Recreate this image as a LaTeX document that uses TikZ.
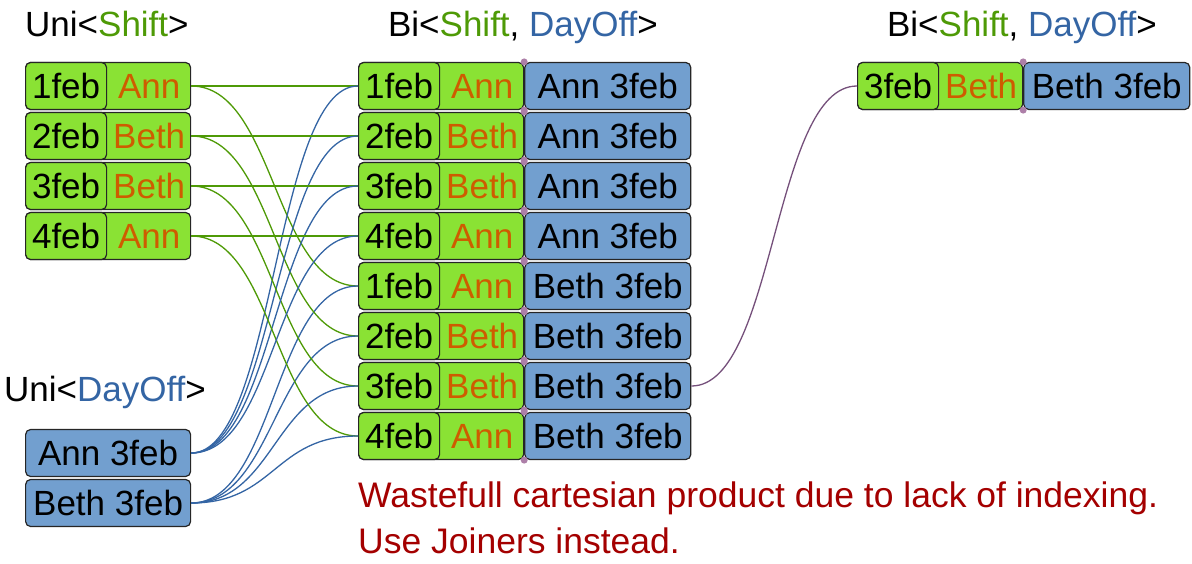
\documentclass[tikz,border=0pt]{standalone}
\usepackage{fontspec}
\setmainfont{Liberation Sans}
\usetikzlibrary{positioning,calc}
\definecolor{joinGreen}{HTML}{8AE234}
\definecolor{joinGreenDark}{HTML}{4E9A06}
\definecolor{joinBlue}{HTML}{729FCF}
\definecolor{joinBlueDark}{HTML}{3465A4}
\definecolor{joinOrange}{HTML}{CE5C00}
\definecolor{joinRed}{HTML}{A40000}
\definecolor{joinPlum}{HTML}{75507B}
\definecolor{joinPlumLight}{HTML}{AD7FA8}

\begin{document}
\begin{tikzpicture}[x=1pt,y=-1pt,font=\fontsize{35}{40}\selectfont,
   cell/.style={rounded corners=5pt,draw=black!85,line width=1.2pt,
                minimum height=47pt,inner sep=0pt,text height=25pt,text depth=0pt},
   shiftcell/.style={cell,fill=joinGreen,minimum width=165pt},
   datecell/.style={cell,fill=joinGreen,minimum width=81pt},
   offcell/.style={cell,fill=joinBlue,minimum width=166pt},
   who/.style={text=joinOrange,inner sep=0pt,text height=25pt,text depth=0pt},
   title/.style={inner sep=0pt},
   note/.style={text=joinRed,inner sep=0pt,anchor=base west,
                font=\fontsize{35.5}{40}\selectfont},
   wire/.style={line width=1.3pt}]
  \useasboundingbox (0,0) rectangle (1192,563);

  % titles
  \node[title,anchor=base west] (tshift) at (25,36)
    {Uni<\textcolor{joinGreenDark}{Shift}>};
  \node[title,anchor=base west] (toff) at (4,401)
    {Uni<\textcolor{joinBlueDark}{DayOff}>};
  \node[title,anchor=base] (tbi) at (523,36)
    {Bi<\textcolor{joinGreenDark}{Shift}, \textcolor{joinBlueDark}{DayOff}>};
  \node[title,anchor=base] (tjoin) at (1022,36)
    {Bi<\textcolor{joinGreenDark}{Shift}, \textcolor{joinBlueDark}{DayOff}>};

  % Uni<Shift>
  \foreach \r/\dt/\nm in {1/1feb/Ann,2/2feb/Beth,3/3feb/Beth,4/4feb/Ann}{
    \node[shiftcell,anchor=west] (sh\r) at (25,36+50*\r) {};
    \node[datecell,anchor=west] (shd\r) at (sh\r.west) {\dt};
    \node[who] at ($(shd\r.east)!.5!(sh\r.east)$) {\nm};
  }

  % Uni<DayOff>
  \node[offcell,minimum width=165pt,anchor=west] (offA) at (25,453) {Ann 3feb};
  \node[offcell,minimum width=165pt,anchor=west] (offB) at (25,503) {Beth 3feb};

  % Bi<Shift, DayOff>, every pair
  \foreach \r/\dt/\nm/\pn in {1/1feb/Ann/Ann,2/2feb/Beth/Ann,3/3feb/Beth/Ann,4/4feb/Ann/Ann,
                             5/1feb/Ann/Beth,6/2feb/Beth/Beth,7/3feb/Beth/Beth,8/4feb/Ann/Beth}{
    \node[shiftcell,anchor=west] (bi\r) at (358,36+50*\r) {};
    \node[datecell,anchor=west] (bid\r) at (bi\r.west) {\dt};
    \node[who] at ($(bid\r.east)!.5!(bi\r.east)$) {\nm};
    \node[offcell,anchor=west] (bio\r) at (bi\r.east) {\pn\ 3feb};
    \fill[joinPlumLight] (bio\r.north west) circle (3.5pt) (bio\r.south west) circle (3.5pt);
  }

  % Bi<Shift, DayOff>, filtered
  \node[shiftcell,anchor=west] (jn) at (857,86) {};
  \node[datecell,anchor=west] (jnd) at (jn.west) {3feb};
  \node[who] at ($(jnd.east)!.5!(jn.east)$) {Beth};
  \node[offcell,anchor=west] (jno) at (jn.east) {Beth 3feb};
  \fill[joinPlumLight] (jno.north west) circle (3.5pt) (jno.south west) circle (3.5pt);

  % wires
  \foreach \r in {1,...,4}{
    \pgfmathtruncatemacro\s{\r+4}
    \draw[wire,joinGreenDark] (sh\r.east) -- (bi\r.west);
    \draw[wire,joinGreenDark] (sh\r.east) .. controls +(84,0) and +(-84,0) .. (bi\s.west);
    \draw[wire,joinBlueDark] (offA.east) .. controls +(84,0) and +(-84,0) .. (bi\r.west);
    \draw[wire,joinBlueDark] (offB.east) .. controls +(84,0) and +(-84,0) .. (bi\s.west);
  }
  \draw[wire,joinPlum] (bio7.east) .. controls +(84,0) and +(-84,0) .. (jn.west);

  % warning
  \node[note] (note) at (358,507) {Wastefull cartesian product due to lack of indexing.};
  \node[note] (note2) at ($(note.base west)+(0,46)$) {Use Joiners instead.};
\end{tikzpicture}
\end{document}
